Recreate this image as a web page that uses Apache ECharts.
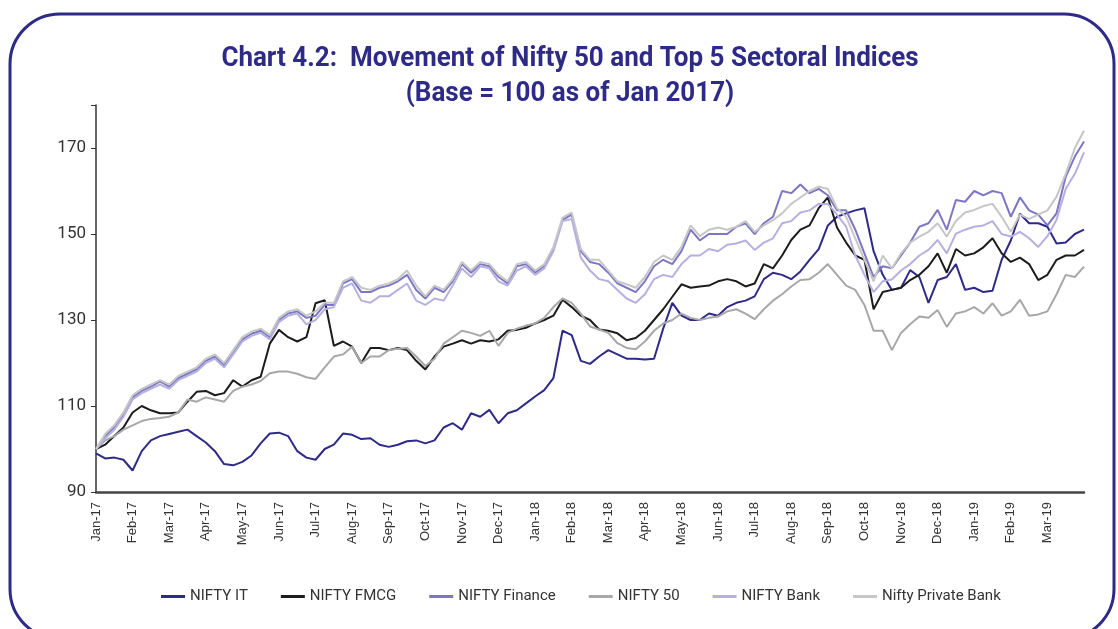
<!DOCTYPE html>
<html>
<head>
<meta charset="utf-8">
<script src="https://cdn.jsdelivr.net/npm/echarts@6/dist/echarts.min.js"></script>
<style>
html,body{margin:0;padding:0;background:#fff;}
#chart{width:1118px;height:629px;}
</style>
</head>
<body>
<div id="chart"></div>
<script>
// Month tick labels (one every 4 weekly points)
const monthLabels = ['Jan-17','Feb-17','Mar-17','Apr-17','May-17','Jun-17','Jul-17','Aug-17','Sep-17','Oct-17','Nov-17','Dec-17',
  'Jan-18','Feb-18','Mar-18','Apr-18','May-18','Jun-18','Jul-18','Aug-18','Sep-18','Oct-18','Nov-18','Dec-18',
  'Jan-19','Feb-19','Mar-19'];

const niftyIT = [99,97.8,98,97.5,95,99.5,102,103,103.5,104,
  104.5,103,101.5,99.5,96.5,96.2,97,98.5,101.3,103.6,
  103.8,103,99.5,98,97.5,100,101,103.6,103.3,102.3,
  102.5,101,100.5,101,101.8,102,101.3,102,105,106,
  104.5,108.3,107.5,109.1,106,108.3,109,110.6,112.2,113.7,
  116.5,127.5,126.5,120.5,119.8,121.5,123,122,121,121,
  120.8,121,128,134,131,130,130,131.5,131,133,
  134,134.5,135.5,139.5,141,140.5,139.5,141.3,144,146.5,
  152,154,154.8,155.5,156,146,140.5,137,137.5,141.6,
  140,134,139.3,140,143,137,137.5,136.5,136.8,144,
  148.5,154.7,152.5,152.5,151.7,147.8,148,150,151];

const niftyFMCG = [100,101,103,105,108.5,110,109,108.3,108.3,108.5,
  111,113.3,113.5,112.5,113,116,114.5,116,116.8,124.5,
  127.7,126,125,126,133.9,134.6,124,125,123.8,120,
  123.5,123.5,123,123.5,123,120.5,118.5,121.5,123.8,124.5,
  125.3,124.5,125.3,125,125.5,127.5,127.7,128.2,129.2,130,
  131,134.7,133,131,130,127.8,127.5,126.9,125.3,125.8,
  127.5,130,132.5,135.4,138.3,137.5,137.8,138,139,139.5,
  139,137.8,138.5,143,142,145,148.6,151,152,156,
  158.5,151.5,148,145,144,132.5,136.5,137,137.5,139.3,
  140.5,142.5,145.5,141,146.5,145,145.5,146.9,149,145.5,
  143.5,144.5,143,139.3,140.5,144,145,145,146.3];

const niftyFinance = [100,103,105,108,112,113.5,114.5,115.7,114.5,116.5,
  117.5,118.5,120.5,121.5,119.5,122.5,125.5,126.8,127.5,126,
  130,131.5,132,130.5,131,133.5,133.5,138.5,139.5,136.5,
  136.5,137.5,138,139,140.5,137,135,137.5,136.5,139,
  143,141,143,142.5,140,138.5,142.5,143,141,142.5,
  146.5,153.3,154.5,146,143.5,143,141,138.5,137.5,136.5,
  139,142.5,144,143,146,151,148.5,150,150,150,
  151.7,152.5,150,152.5,154,160,159.5,161.5,159.5,160.5,
  159,155.5,155.5,151,145.5,140,142.5,142,145,148,
  151.7,152.5,155.6,151,157.9,157.5,160,159,160,159.5,
  154,158.5,155.5,154.5,152,154.8,163.3,168,171.5];

const nifty50 = [100,102,103,104.5,105.5,106.5,107,107.2,107.5,108.5,
  111.5,111,112,111.5,111,113.5,114.5,115,115.8,117.6,
  118,118,117.5,116.7,116.3,119,121.5,122,123.8,120,
  121.5,121.5,123,123.3,123.5,121.5,119.3,121,124.5,126,
  127.5,127,126.3,127.5,124,127,128,128.7,129.2,130.5,
  133,135,134,131.5,128.5,127.8,127,124.6,123.5,123.2,
  125,127.5,129.2,130,131.5,130.5,130,130.5,130.8,132,
  132.5,131.5,130.2,132.5,134.5,136,137.8,139.3,139.5,141,
  143,140.5,138,137,133.5,127.5,127.5,123,127,129,
  130.8,130.5,132.3,128.4,131.5,132,133,131.5,133.9,131,
  132,134.7,131,131.3,132,136,140.5,140,142.4];

const niftyBank = [100,102.5,104.5,107.5,111.5,113,114,115,114,116,
  117,118,120,121,119,122,125,126.3,127,125.5,
  129.5,131,131.5,129,130,132.5,133,137.5,138.5,134.5,
  134,135.5,135.5,137,138.5,134.5,133.5,135,134.5,138,
  142,140,142.5,142,139,138,141.5,142.5,140.5,142,
  146,153,153.5,144.5,141.5,139.5,139,137,135,134,
  136,139.5,140.5,140,143,145,145,146.5,146,147.5,
  147.8,148.5,146.3,148,149,152.5,153,155,155.5,157,
  157,154.5,151.7,145,140.5,136.5,139,139.4,141.5,143,
  145,146.3,148.6,145.5,150.1,151,151.7,152,153,150,
  149.4,150.5,149,147,149.5,153.3,160.5,164,169];

const niftyPvtBank = [100,103.5,105.5,108.5,112.5,114,115,116,115,117,
  118,119,121,122,120,123,126,127.3,128,126.5,
  130.5,132,132.5,131,132,134,134,139,140,137.5,
  137,138,138.5,139.5,141.5,138,135.5,138,137,139.5,
  143.5,141.5,143.5,143,140.5,139,143,143.5,141.5,143,
  147,153.8,155,146.5,144,144,141.5,139,138.3,137.5,
  140,143.5,145,144,147,152,149.5,151,151.5,151,
  151.7,153,150.5,152,153.2,154.8,157,158.5,160,161,
  160.5,156,154,149,144,139,145,142,145.5,148,
  149.4,150.5,152.5,149.4,153,155,155.6,156.5,157,154,
  150.5,154.5,153.5,154.5,155.5,158.7,164,170,174];

const yTicks = [90,110,130,150,170];

// weekly categories: 4 per month, plus final point at end of Mar-19
const categories = [];
monthLabels.forEach(m => { for (let w = 1; w <= 4; w++) categories.push(m + '|' + w); });
categories.push('Mar-19|5');

const seriesDefs = [
  {name:'NIFTY IT', data:niftyIT, color:'#2e2a87'},
  {name:'NIFTY FMCG', data:niftyFMCG, color:'#1c1c1c'},
  {name:'NIFTY Finance', data:niftyFinance, color:'#7d76c2'},
  {name:'NIFTY 50', data:nifty50, color:'#a7a7a9'},
  {name:'NIFTY Bank', data:niftyBank, color:'#b5b0e0'},
  {name:'Nifty Private Bank', data:niftyPvtBank, color:'#c6c6c8'}
];

const chart = echarts.init(document.getElementById('chart'), null, {renderer:'canvas'});
chart.setOption({
  animation:false,
  backgroundColor:'#ffffff',
  graphic:[
    {type:'rect', shape:{x:10, y:14, width:1104, height:625, r:50}, style:{fill:'none', stroke:'#2e2a87', lineWidth:3}, z:0},
    {type:'text', x:570, y:46, scaleX:0.963, style:{text:'Chart 4.2:  Movement of Nifty 50 and Top 5 Sectoral Indices', font:'bold 27px Roboto', fill:'#2e2a87', textAlign:'center'}},
    {type:'text', x:570, y:81, scaleX:0.963, style:{text:'(Base = 100 as of Jan 2017)', font:'bold 27px Roboto', fill:'#2e2a87', textAlign:'center'}}
  ],
  legend:{
    bottom:20, left:156,
    itemWidth:24, itemHeight:3, itemGap:33, icon:'rect',
    textStyle:{fontFamily:'Roboto', fontSize:15, color:'#333'},
    data:seriesDefs.map(s=>s.name)
  },
  grid:{left:96, right:34, top:105, bottom:137, containLabel:false},
  xAxis:{
    type:'category', data:categories, boundaryGap:false,
    axisLine:{lineStyle:{color:'#444', width:2.5}},
    axisTick:{show:false},
    axisLabel:{interval:3, rotate:90, margin:10, fontFamily:'Liberation Sans', fontSize:13, color:'#333',
      formatter:v => v.endsWith('|1') ? v.split('|')[0] : ''},
    splitLine:{show:false}
  },
  yAxis:{
    type:'value', min:90, max:180, interval:20,
    axisLine:{show:true, lineStyle:{color:'#333', width:1.5}},
    axisTick:{show:true, length:5, lineStyle:{color:'#333'}},
    axisLabel:{fontFamily:'Roboto', fontSize:17, color:'#333', margin:10,
      formatter:v => yTicks.includes(v) ? String(v) : ''},
    splitLine:{show:false}
  },
  series:seriesDefs.map(s=>({
    name:s.name, type:'line', data:s.data, showSymbol:false, symbol:'none',
    itemStyle:{color:s.color}, lineStyle:{color:s.color, width:2}
  }))
});
</script>
</body>
</html>
